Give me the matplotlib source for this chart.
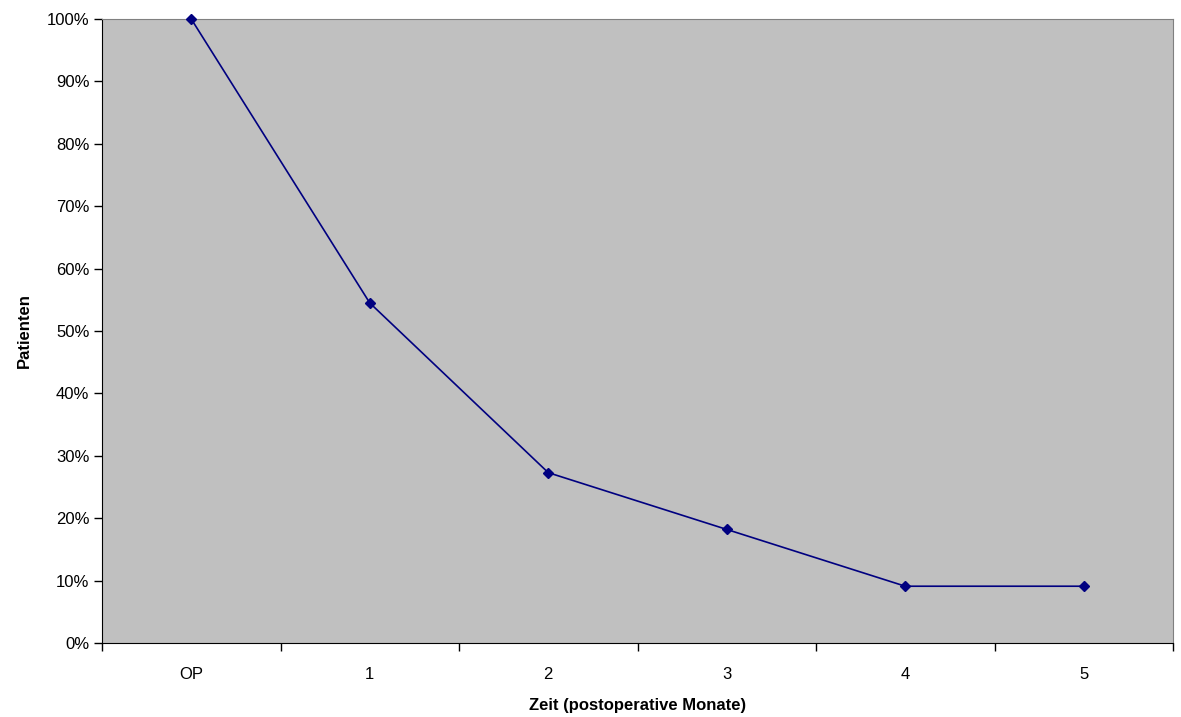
import numpy as np
import matplotlib.pyplot as plt
from matplotlib.ticker import PercentFormatter

plt.rcParams['font.family'] = ['Liberation Sans', 'DejaVu Sans']

categories = ['OP', '1', '2', '3', '4', '5']
patients = [100.0, 54.5, 27.3, 18.2, 9.1, 9.1]

fig = plt.figure(figsize=(11.81, 7.17), dpi=100)
ax = fig.add_axes([102 / 1181, 1 - 643 / 717, 1071 / 1181, 624 / 717])
ax.set_facecolor('#C0C0C0')

x = np.arange(len(categories))
ax.plot(x, patients, color='#000080', lw=1.2, marker='D', ms=5, clip_on=False, zorder=3)

ax.set_xlim(-0.5, len(categories) - 0.5)
ax.set_ylim(0, 100)
ax.set_yticks(np.arange(0, 101, 10))
ax.yaxis.set_major_formatter(PercentFormatter(decimals=0))

# category labels centred, tick marks on the boundaries
ax.set_xticks(np.arange(-0.5, len(categories)), minor=False)
ax.set_xticklabels([])
ax.set_xticks(x, minor=True)
ax.set_xticklabels(categories, minor=True)
ax.tick_params(axis='x', which='minor', length=0, pad=17, labelsize=12)
ax.tick_params(axis='x', which='major', length=6, width=1, direction='out')
ax.tick_params(axis='y', length=6, width=1, direction='out', labelsize=12, pad=3)

for side in ['top', 'right']:
    ax.spines[side].set_color('#808080')
for side in ['left', 'bottom']:
    ax.spines[side].set_color('black')

ax.set_xlabel('Zeit (postoperative Monate)', fontsize=12, fontweight='bold', labelpad=12)
ax.set_ylabel('Patienten', fontsize=12, fontweight='bold', labelpad=11)

fig.savefig('out.png', dpi=100)
